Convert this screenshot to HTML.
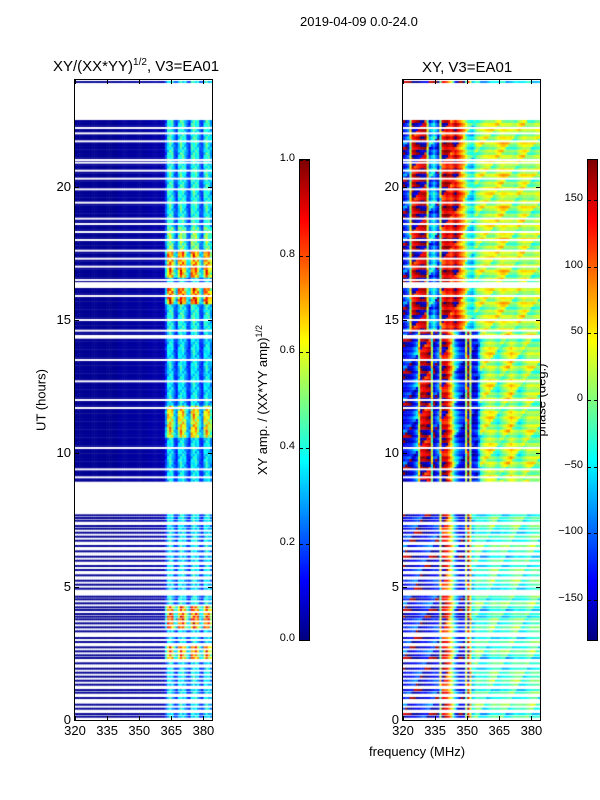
<!DOCTYPE html>
<html><head><meta charset="utf-8">
<style>
body{margin:0;background:#fff;width:600px;height:800px;position:relative;overflow:hidden;font-family:"Liberation Sans",sans-serif;color:#000}
.t{position:absolute;white-space:nowrap}
canvas{position:absolute}
.ax{position:absolute;border:1px solid #000;box-sizing:border-box}
</style></head><body>
<div class="t" style="left:300px;top:14px;font-size:13px">2019-04-09 0.0-24.0</div>
<div class="t" style="left:53px;top:57px;font-size:15px">XY/(XX*YY)<sup style="font-size:10px">1/2</sup>, V3=EA01</div>
<div class="t" style="left:422px;top:59px;font-size:15px">XY, V3=EA01</div>
<div class="t" style="left:41px;top:400px;font-size:13px;transform:translate(-50%,-50%) rotate(-90deg)">UT (hours)</div>
<div class="t" style="left:369px;top:744px;font-size:13px">frequency (MHz)</div>
<div class="t" style="left:262px;top:400px;font-size:13px;transform:translate(-50%,-50%) rotate(-90deg)">XY amp. / (XX*YY amp)<sup style="font-size:9px">1/2</sup></div>
<div class="t" style="left:541px;top:400px;font-size:13px;transform:translate(-50%,-50%) rotate(-90deg)">phase (deg.)</div>
<canvas id="c1" width="137" height="640" style="left:75px;top:80px"></canvas>
<canvas id="c2" width="137" height="640" style="left:403px;top:80px"></canvas>
<div class="ax" style="left:74px;top:79px;width:139px;height:642px"></div>
<div class="ax" style="left:402px;top:79px;width:139px;height:642px"></div>
<canvas id="cb1" width="9" height="480" style="left:300px;top:160px;outline:1px solid #000"></canvas>
<canvas id="cb2" width="9" height="480" style="left:588px;top:160px;outline:1px solid #000"></canvas>
<div id="ticks"></div>
<script>
// ---- data ----
const freqTicks=[320,335,350,365,380];
const hourTicks=[0,5,10,15,20];
const ampTicks=[0.0,0.2,0.4,0.6,0.8,1.0];
const phaseTicks=[-150,-100,-50,0,50,100,150];
const denseRange=[9.0,22.5];
const gapHours=[22.2,22.0,21.7,21.0,20.9,20.6,20.3,19.9,19.4,18.8,18.6,18.3,18.0,17.6,17.3,17.0,16.5,15.9,15.0,14.6,14.4,13.5,12.7,12.0,11.7,10.2,9.4,9.1];
const gapBlocks=[[16.2,16.42],[14.3,14.38]];
const lowRows=[0.1,0.2,0.4,0.55,0.8,1.0,1.1,1.3,1.45,1.6,1.75,1.9,2.1,2.3,2.4,2.55,2.7,2.9,3.05,3.3,3.45,3.6,3.75,3.85,3.95,4.1,4.2,4.35,4.5,4.6,4.9,5.05,5.2,5.4,5.6,5.75,5.95,6.1,6.3,6.5,6.7,6.85,7.0,7.15,7.25,7.45,7.55,7.65,8.95,23.9];
const ampGain=[[0,2.3,0.4],[2.3,2.9,0.8],[2.9,3.4,0.4],[3.4,4.3,0.85],[4.3,9,0.4],[9,10.5,0.4],[10.5,11.7,0.7],[11.7,14.5,0.4],[14.5,15.5,0.45],[15.5,16.2,0.85],[16.5,17.5,0.8],[17.5,18.5,0.55],[18.5,24,0.45]];
const ampChan=[0.02,0.02,0.02,0.02,0.02,0.02,0.02,0.02,0.02,0.02,0.02,0.02,0.02,0.02,0.02,0.02,0.02,0.02,0.02,0.02,0.03,0.03,0.03,0.03,0.03,0.03,0.03,0.03,0.03,0.03,0.03,0.03,0.03,0.03,0.04,0.04,0.04,0.04,0.04,0.04,0.05,0.05,
 0.45,0.9,1.0,0.9,0.55,0.4,0.85,1.0,0.95,0.8,0.5,0.4,0.9,1.0,0.95,0.85,0.5,0.4,0.85,1.0,0.9,0.7];
const rowVar=[1.0,0.85,1.1,0.95,0.8,1.05,0.9,1.15,0.85,1.0,0.75,1.1];
const phaseUpper=[-150,-120,150,160,170,160,-100,-60,-150,140,150,120,160,100,50,-30,-60,0,10,20,20,10,30,40,20,10,-10,20,30,10,0,10];
const phaseMid=[-150,-150,-140,-100,160,150,160,-160,-120,170,140,60,-60,-120,-150,170,-150,-140,-10,20,30,10,-30,0,20,40,10,-20,0,20,10,0];
const phaseLow=[-150,-150,-150,-150,-150,-150,-150,-140,-150,160,120,40,-80,-150,-150,160,-60,-20,-40,-50,-30,-20,-40,-30,-40,-30,-20,-30,-40,-30,-20,-30];
const phaseVar=[0,20,-15,10,-25,5,30,-10,15,-20,0,25];
// ---- scales ----
const fx=f=>(f-320)*137/64;
const hy=h=>640-h*640/24;
function jet(v){v=Math.max(0,Math.min(1,v));
 const r=Math.max(0,Math.min(1,1.5-Math.abs(4*v-3))),g=Math.max(0,Math.min(1,1.5-Math.abs(4*v-2))),b=Math.max(0,Math.min(1,1.5-Math.abs(4*v-1)));
 return `rgb(${r*255|0},${g*255|0},${b*255|0})`;}
function gain(h){for(const s of ampGain)if(h>=s[0]&&h<s[1])return s[2];return 0.4;}
function rows(){const out=[];let i=0;
 for(let h=denseRange[0];h<denseRange[1]-1e-6;h+=0.1){out.push([h,0.1,i++]);}
 lowRows.forEach(h=>out.push([h,0.06,i++]));return out;}
const c1=document.getElementById('c1').getContext('2d'),c2=document.getElementById('c2').getContext('2d');
rows().forEach(([h,dh,i])=>{
 const y0=hy(h+dh),y1=hy(h);
 for(let ch=0;ch<64;ch++){
  const x0=fx(320+ch),x1=fx(321+ch);
  const v=ampChan[ch]*(ch>=42?gain(h)*rowVar[(i*5+ch)%12]:1);
  c1.fillStyle=jet(v);c1.fillRect(x0,y0,x1-x0+0.5,y1-y0+0.3);
  const prof=h<8.5||h>23?phaseLow:(h<14.5?phaseMid:phaseUpper);
  const k=ch/2,a=Math.floor(k),b=Math.min(31,a+1),t=k-a;
  let p=prof[a]*(1-t)+prof[b]*t+phaseVar[(i*7+ch*5)%12]*(ch<20?1.5:1)+phaseVar[i%12];
  if(p>180)p-=360;if(p<-180)p+=360;
  c2.fillStyle=jet((p+180)/360);c2.fillRect(x0,y0,x1-x0+0.5,y1-y0+0.3);
 }});
[c1,c2].forEach(c=>{c.fillStyle='#fff';
 gapHours.forEach(h=>c.fillRect(0,hy(h)-1,137,2));
 gapBlocks.forEach(b=>c.fillRect(0,hy(b[1]),137,hy(b[0])-hy(b[1])));});
// colorbars
['cb1','cb2'].forEach(id=>{const c=document.getElementById(id).getContext('2d');
 for(let y=0;y<480;y++){c.fillStyle=jet(1-y/480);c.fillRect(0,y,9,1);}});
// ticks
const T=document.getElementById('ticks');
function lab(txt,x,y,al,name,fs){const d=document.createElement('div');d.className='t';
 
 
 d.style.fontSize=(fs||13)+'px';d.textContent=txt;d.style.top=(y-8)+'px';
 if(al==='c'){d.style.left=x+'px';d.style.transform='translateX(-50%)';}
 else if(al==='r'){d.style.right=(600-x)+'px';}else d.style.left=x+'px';T.appendChild(d);}
function tk(x,y,w,h,name){const d=document.createElement('div');d.style.cssText=`position:absolute;left:${x}px;top:${y}px;width:${w}px;height:${h}px;background:#000`;
 
 
 T.appendChild(d);}
[75,403].forEach(ox=>{
 freqTicks.forEach(f=>{const x=ox+fx(f);lab(String(f),x,731,'c','x-tick-label');tk(x,80,1,4,'x-tick');tk(x,716,1,4,'x-tick');});
 hourTicks.forEach(h=>{const y=80+hy(h);lab(String(h),ox-4,y,'r','y-tick-label');tk(ox,y,4,1,'y-tick');tk(ox+133,y,4,1,'y-tick');});
});
ampTicks.forEach(v=>{const y=640-v*480;lab(v.toFixed(1),295,y,'r','amp-colorbar-tick',11);tk(300,y,3,1,'amp-colorbar-tick-mark');tk(306,y,3,1,'amp-colorbar-tick-mark');});
phaseTicks.forEach(v=>{const y=400-v*480/360;lab(String(v).replace('-','\u2212'),583,y,'r','phase-colorbar-tick',11);tk(588,y,3,1,'phase-colorbar-tick-mark');tk(594,y,3,1,'phase-colorbar-tick-mark');});
</script>
</body></html>
